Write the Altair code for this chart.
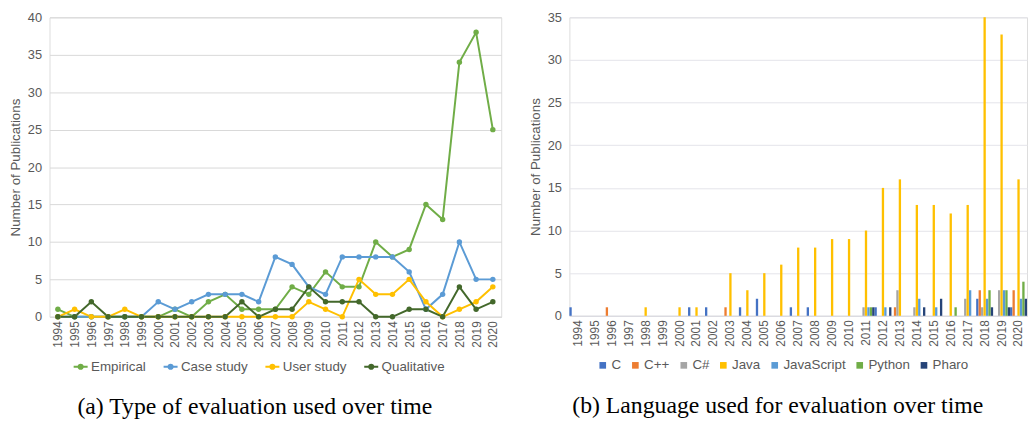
import altair as alt
import pandas as pd

years = [str(y) for y in range(1994, 2021)]

# Left panel: type of evaluation
series_a = ["Empirical", "Case study", "User study", "Qualitative"]
empirical   = [1,0,0,0,0,0,0,1,0,2,3,1,1,1,4,3,6,4,4,10,8,9,15,13,34,38,25]
case_study  = [0,0,0,0,0,0,2,1,2,3,3,3,2,8,7,4,3,8,8,8,8,6,1,3,10,5,5]
user_study  = [0,1,0,0,1,0,0,0,0,0,0,0,0,0,0,2,1,0,5,3,3,5,2,0,1,2,4]
qualitative = [0,0,2,0,0,0,0,0,0,0,0,2,0,1,1,4,2,2,2,0,0,1,1,0,4,1,2]
colors_a = ["#70AD47", "#5B9BD5", "#FFC000", "#43682B"]

# Right panel: language used
langs = ["C", "C++", "C#", "Java", "JavaScript", "Python", "Pharo"]
lang_c      = [1,0,0,0,0,0,0,1,1,0,1,2,0,1,1,0,0,0,1,0,0,0,0,0,2,0,1]
lang_cpp    = [0,0,1,0,0,0,0,0,0,1,0,0,0,0,0,0,0,0,0,1,0,0,0,0,3,0,3]
lang_cs     = [0,0,0,0,0,0,0,0,0,0,0,0,0,0,0,0,0,1,0,3,1,0,0,2,1,3,0]
lang_java   = [0,0,0,0,1,0,1,1,0,5,3,5,6,8,8,9,9,10,15,16,13,13,12,13,35,33,16]
lang_js     = [0,0,0,0,0,0,0,0,0,0,0,0,0,0,0,0,0,1,1,0,2,1,0,3,2,3,2]
lang_python = [0,0,0,0,0,0,0,0,0,0,0,0,0,0,0,0,0,1,0,0,0,0,1,0,3,3,4]
lang_pharo  = [0,0,0,0,0,0,0,0,0,0,0,0,0,0,0,0,0,1,1,0,1,2,0,0,1,1,2]
colors_b = ["#4472C4", "#ED7D31", "#A5A5A5", "#FFC000", "#5B9BD5", "#70AD47", "#264478"]

rows_a = []
for name, vals in zip(series_a, [empirical, case_study, user_study, qualitative]):
    for y, v in zip(years, vals):
        rows_a.append({"year": y, "series": name, "value": v})
df_a = pd.DataFrame(rows_a)

rows_b = []
for name, vals in zip(langs, [lang_c, lang_cpp, lang_cs, lang_java, lang_js, lang_python, lang_pharo]):
    for y, v in zip(years, vals):
        if v > 0:
            rows_b.append({"year": y, "lang": name, "value": v})
df_b = pd.DataFrame(rows_b)

FONT = "Liberation Sans"
GRAY = "#595959"

xa = alt.X("year:N", sort=years, scale=alt.Scale(domain=years, type="point", padding=0.5),
           axis=alt.Axis(title=None, labelAngle=270, labelFontSize=12, labelColor=GRAY,
                         labelFont=FONT, ticks=False, domain=True, domainColor="#d9d9d9",
                         labelPadding=4, grid=False))
ya = alt.Y("value:Q", scale=alt.Scale(domain=[0, 40]),
           axis=alt.Axis(title="Number of Publications", values=list(range(0, 41, 5)),
                         titleFontSize=13.5, titleFontWeight="normal", titleColor=GRAY,
                         titleFont=FONT, labelFont=FONT, labelFontSize=13, labelColor=GRAY,
                         ticks=False, domain=False, gridColor="#d9d9d9", labelPadding=8,
                         titlePadding=5))
col_a = alt.Color("series:N", sort=series_a,
                  scale=alt.Scale(domain=series_a, range=colors_a),
                  legend=alt.Legend(title=None, orient="none", direction="horizontal",
                                    legendX=23, legendY=345, labelFontSize=13.5,
                                    labelColor=GRAY, labelFont=FONT,
                                    symbolType="M-1,0H1M-0.3,0a0.3,0.3 0 1,0 0.6,0a0.3,0.3 0 1,0 -0.6,0",
                                    symbolSize=200, symbolStrokeWidth=2,
                                    columnPadding=13, labelOffset=2))

left = alt.Chart(df_a).mark_line(strokeWidth=2, point=alt.OverlayMarkDef(size=30, filled=True)).encode(
    x=xa, y=ya, color=col_a
).properties(width=457, height=303,
             title=alt.TitleParams("(a) Type of evaluation used over time", orient="bottom",
                                   font="Liberation Serif", fontSize=24, fontWeight="normal",
                                   color="#000000", offset=22, frame="bounds", anchor="middle"))

xb = alt.X("year:N", sort=years, scale=alt.Scale(domain=years, paddingInner=0.0, paddingOuter=0.0),
           axis=alt.Axis(title=None, labelAngle=270, labelFontSize=12, labelColor=GRAY,
                         labelFont=FONT, ticks=False, domain=True, domainColor="#d9d9e0",
                         labelPadding=4, grid=False))
yb = alt.Y("value:Q", scale=alt.Scale(domain=[0, 35]),
           axis=alt.Axis(title="Number of Publications", values=list(range(0, 36, 5)),
                         titleFontSize=13.5, titleFontWeight="normal", titleColor=GRAY,
                         titleFont=FONT, labelFont=FONT, labelFontSize=13, labelColor=GRAY,
                         ticks=False, domain=False, gridColor="#e4e4ea", labelPadding=8,
                         titlePadding=5))
col_b = alt.Color("lang:N", sort=langs, scale=alt.Scale(domain=langs, range=colors_b),
                  legend=alt.Legend(title=None, orient="none", direction="horizontal",
                                    legendX=27, legendY=345, labelFontSize=13.5,
                                    labelColor=GRAY, labelFont=FONT, symbolType="square",
                                    symbolSize=45, columnPadding=7, labelOffset=2))

right = alt.Chart(df_b).mark_bar().encode(
    x=xb, y=yb, color=col_b,
    xOffset=alt.XOffset("lang:N", sort=langs, scale=alt.Scale(domain=langs, paddingInner=0.05, paddingOuter=0.0))
).properties(width=463, height=302,
             title=alt.TitleParams("(b) Language used for evaluation over time", orient="bottom",
                                   font="Liberation Serif", fontSize=24, fontWeight="normal",
                                   color="#000000", offset=22, frame="bounds", anchor="middle"))

chart = alt.hconcat(left, right, spacing=26).resolve_scale(
    color="independent", x="independent", y="independent", xOffset="independent"
).resolve_legend(color="independent").configure_view(stroke=None).configure(
    background="white", padding={"left": 0, "top": 0, "right": 0, "bottom": 0})

chart.save("out.html", embed_options={"renderer": "svg", "actions": False})
